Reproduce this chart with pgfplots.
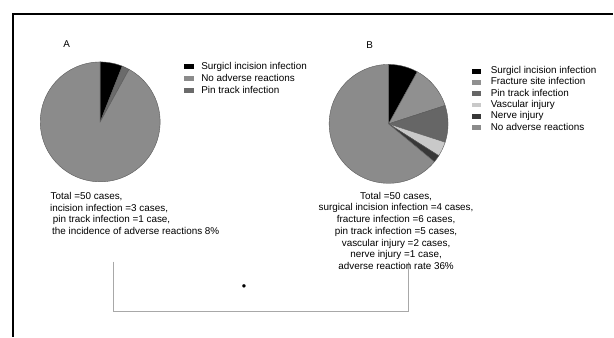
\documentclass[border=0pt]{standalone}
\usepackage{pgfplots}
\pgfplotsset{compat=1.18}
\usepackage{fontspec}
\setmainfont{Liberation Sans}

\definecolor{noadv}{gray}{0.545}
\definecolor{pinA}{gray}{0.42}
\definecolor{fract}{gray}{0.565}
\definecolor{pinB}{gray}{0.40}
\definecolor{vasc}{gray}{0.79}
\definecolor{nerve}{gray}{0.22}
\definecolor{bracket}{gray}{0.66}
\definecolor{rim}{gray}{0.35}

\newcommand{\txt}{\fontsize{9.9}{11.7}\selectfont}

% one pie slice: centre x, centre y, radius, cases before the slice, cases in it, total, colour
% (slices run clockwise from twelve o'clock)
\newcommand{\pieslice}[7]{%
  \addplot[fill=#7, draw=rim, line width=0.4pt, forget plot, samples=90, variable=\t,
    domain=90-360*(#4+#5)/(#6):90-360*(#4)/(#6)]
    ({#1+#3*cos(\t)}, {#2-#3*sin(\t)}) -- (axis cs:#1,#2) -- cycle;
}

\pgfplotsset{
  canvas/.style={scale only axis, width=614pt, height=337pt,
    xmin=0, xmax=614, ymin=0, ymax=337, y dir=reverse,
    hide axis, clip=false, at={(0pt,0pt)}, anchor=north west,
    legend image code/.code={\fill[##1] (0pt,-2.4pt) rectangle (9.3pt,2.4pt);}},
  keybox/.style={draw=none, fill=none, inner sep=0pt, font=\txt,
    nodes={inner ysep=0pt, text height=7.2pt, text depth=2.2pt},
    cells={anchor=west}},
}

\begin{document}
\begin{tikzpicture}
\path (0pt,0pt) rectangle (614pt,-337pt);

% ---------- group A ----------
\begin{axis}[canvas,
  legend style={keybox, at={(axis cs:184.3,62)}, anchor=north west,
    row sep=2.6pt, nodes={inner xsep=7.7pt}}]
  % cases: incision infection 3, pin track infection 1, no adverse reactions 46
  \pieslice{100.3}{122}{60}{0}{3}{50}{black}
  \pieslice{100.3}{122}{60}{3}{1}{50}{pinA}
  \pieslice{100.3}{122}{60}{4}{46}{50}{noadv}

  \addlegendimage{fill=black, draw=none}
  \addlegendentry{Surgicl incision infection}
  \addlegendimage{fill=noadv, draw=none}
  \addlegendentry{No adverse reactions}
  \addlegendimage{fill=pinA, draw=none}
  \addlegendentry{Pin track infection}

  % outer frame
  \draw[black, line width=1.3pt] (axis cs:13,337) -- (axis cs:13,14) -- (axis cs:614,14);

  \node[font=\txt] at (axis cs:66.7,44.3) {A};

  \node[anchor=base west, inner sep=0pt, font=\txt] at (axis cs:50.6,199.8) {Total =50 cases,};
  \node[anchor=base west, inner sep=0pt, font=\txt] at (axis cs:50.0,211.5) {incision infection =3 cases,};
  \node[anchor=base west, inner sep=0pt, font=\txt] at (axis cs:52.7,223.2) {pin track infection =1 case,};
  \node[anchor=base west, inner sep=0pt, font=\txt] at (axis cs:52.0,234.9) {the incidence of adverse reactions 8\%};

  % comparison bracket with its significance dot
  \draw[bracket, line width=1pt] (axis cs:113.3,262) -- (axis cs:113.3,311.7)
        -- (axis cs:408.7,311.7) -- (axis cs:408.7,262);
  \node[font=\fontsize{12.5}{12.5}\selectfont, inner sep=0pt] at (axis cs:244.3,287.7) {\textbullet};
\end{axis}

% ---------- group B ----------
\begin{axis}[canvas,
  legend style={keybox, at={(axis cs:472.3,66.3)}, anchor=north west,
    row sep=1.9pt, nodes={inner xsep=9.5pt}}]
  % cases: incision 4, fracture 6, pin track 5, vascular 2, nerve 1, none 32
  \pieslice{389}{124}{59.5}{0}{4}{50}{black}
  \pieslice{389}{124}{59.5}{4}{6}{50}{fract}
  \pieslice{389}{124}{59.5}{10}{5}{50}{pinB}
  \pieslice{389}{124}{59.5}{15}{2}{50}{vasc}
  \pieslice{389}{124}{59.5}{17}{1}{50}{nerve}
  \pieslice{389}{124}{59.5}{18}{32}{50}{noadv}

  \addlegendimage{fill=black, draw=none}
  \addlegendentry{Surgicl incision infection}
  \addlegendimage{fill=fract, draw=none}
  \addlegendentry{Fracture site infection}
  \addlegendimage{fill=pinB, draw=none}
  \addlegendentry{Pin track infection}
  \addlegendimage{fill=vasc, draw=none}
  \addlegendentry{Vascular injury}
  \addlegendimage{fill=nerve, draw=none}
  \addlegendentry{Nerve injury}
  \addlegendimage{fill=noadv, draw=none}
  \addlegendentry{No adverse reactions}

  \node[font=\txt] at (axis cs:370,45) {B};

  \node[anchor=base, inner sep=0pt, font=\txt] at (axis cs:396.5,199.3) {Total =50 cases,};
  \node[anchor=base, inner sep=0pt, font=\txt] at (axis cs:396.5,211.1) {surgical incision infection =4 cases,};
  \node[anchor=base, inner sep=0pt, font=\txt] at (axis cs:396.5,222.8) {fracture infection =6 cases,};
  \node[anchor=base, inner sep=0pt, font=\txt] at (axis cs:396.5,234.6) {pin track infection =5 cases,};
  \node[anchor=base, inner sep=0pt, font=\txt] at (axis cs:396.5,246.4) {vascular injury =2 cases,};
  \node[anchor=base, inner sep=0pt, font=\txt] at (axis cs:396.5,258.2) {nerve injury =1 case,};
  \node[anchor=base, inner sep=0pt, font=\txt] at (axis cs:396.5,269.9) {adverse reaction rate 36\%};
\end{axis}
\end{tikzpicture}
\end{document}
